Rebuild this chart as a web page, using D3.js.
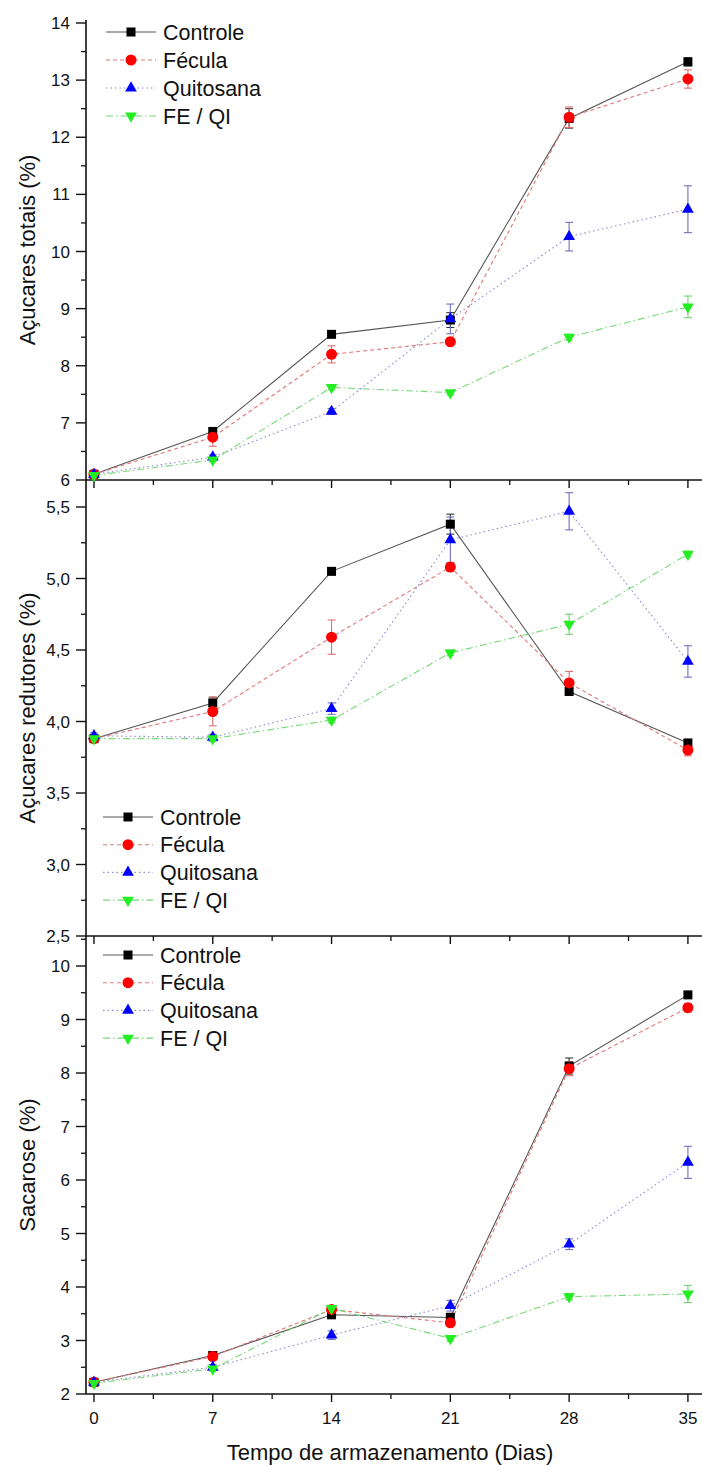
<!DOCTYPE html>
<html><head><meta charset="utf-8">
<script src="https://cdn.jsdelivr.net/npm/d3@7"></script>
<style>
body{margin:0;background:#fff}
svg{display:block}
text{font-family:"Liberation Sans",Arial,sans-serif;fill:#111}
</style>
</head><body>
<svg id="chart" width="702" height="1465"></svg>
<script>
// ---------- DATA ----------
const days = [0, 7, 14, 21, 28, 35];
const seriesNames = ["Controle", "Fécula", "Quitosana", "FE / QI"];

// Açucares totais (%)
const totControle  = [6.10, 6.85, 8.55, 8.80, 12.33, 13.32];
const totFecula    = [6.10, 6.75, 8.20, 8.42, 12.35, 13.02];
const totQuitosana = [6.10, 6.40, 7.20, 8.82, 10.26, 10.74];
const totFEQI      = [6.08, 6.35, 7.62, 7.53, 8.50, 9.03];
const totErrControle  = [0.04, 0.06, 0.04, 0.13, 0.17, 0.07];
const totErrFecula    = [0.03, 0.16, 0.15, 0.04, 0.18, 0.16];
const totErrQuitosana = [0.03, 0.04, 0.05, 0.26, 0.25, 0.41];
const totErrFEQI      = [0.03, 0.03, 0.04, 0.04, 0.05, 0.19];

// Açucares redutores (%)
const redControle  = [3.88, 4.13, 5.05, 5.38, 4.21, 3.85];
const redFecula    = [3.88, 4.07, 4.59, 5.08, 4.27, 3.80];
const redQuitosana = [3.90, 3.89, 4.09, 5.27, 5.47, 4.42];
const redFEQI      = [3.88, 3.88, 4.01, 4.48, 4.68, 5.17];
const redErrControle  = [0.02, 0.04, 0.02, 0.07, 0.02, 0.02];
const redErrFecula    = [0.02, 0.10, 0.12, 0.03, 0.08, 0.04];
const redErrQuitosana = [0.02, 0.02, 0.04, 0.16, 0.13, 0.11];
const redErrFEQI      = [0.02, 0.02, 0.02, 0.02, 0.07, 0.02];

// Sacarose (%)
const sacControle  = [2.22, 2.72, 3.48, 3.43, 8.13, 9.46];
const sacFecula    = [2.22, 2.70, 3.58, 3.33, 8.08, 9.22];
const sacQuitosana = [2.22, 2.50, 3.10, 3.65, 4.80, 6.33];
const sacFEQI      = [2.20, 2.47, 3.60, 3.04, 3.82, 3.87];
const sacErrControle  = [0.04, 0.05, 0.05, 0.08, 0.15, 0.04];
const sacErrFecula    = [0.04, 0.06, 0.06, 0.06, 0.13, 0.08];
const sacErrQuitosana = [0.04, 0.05, 0.08, 0.10, 0.10, 0.30];
const sacErrFEQI      = [0.04, 0.04, 0.05, 0.05, 0.06, 0.16];

// Tick values
const xMajorTicks = [0, 7, 14, 21, 28, 35];
const xMinorTicks = [3.5, 10.5, 17.5, 24.5, 31.5];
const totTicks = [6, 7, 8, 9, 10, 11, 12, 13, 14];
const redTicks = [2.5, 3.0, 3.5, 4.0, 4.5, 5.0, 5.5];
const sacTicks = [2, 3, 4, 5, 6, 7, 8, 9, 10];

// ---------- STYLES ----------
const markerColors = ["#000000", "#ff0000", "#0000ff", "#22ee22"];
const lineColors   = ["#555555", "#e07878", "#8a8ad0", "#78d878"];
const errColors    = ["#333333", "#e07070", "#7070c0", "#70d070"];
const dashes       = [null, "4,3", "1.5,3", "7,3,1.5,3"];

const svg = d3.select("#chart");
const x = d3.scaleLinear().domain([-0.47, 35.83]).range([86, 702]);

const panels = [
  { title: "Açucares totais (%)", domain: [6, 14], range: [480, 23], axisTop: 20,
    ticks: totTicks, minorStep: 0.5, fmt: d => d3.format("d")(d),
    series: [totControle, totFecula, totQuitosana, totFEQI],
    errs: [totErrControle, totErrFecula, totErrQuitosana, totErrFEQI],
    legend: { x0: 106, y0: 32, dy: 28 }, xLabels: false },
  { title: "Açucares redutores (%)", domain: [2.5, 5.5], range: [936, 507], axisTop: 480,
    ticks: redTicks, minorStep: 0.25, fmt: d => d3.format(".1f")(d).replace(".", ","),
    series: [redControle, redFecula, redQuitosana, redFEQI],
    errs: [redErrControle, redErrFecula, redErrQuitosana, redErrFEQI],
    legend: { x0: 103, y0: 817, dy: 27.7 }, xLabels: false },
  { title: "Sacarose (%)", domain: [2, 10], range: [1394, 966], axisTop: 936,
    ticks: sacTicks, minorStep: 0.5, fmt: d => d3.format("d")(d),
    series: [sacControle, sacFecula, sacQuitosana, sacFEQI],
    errs: [sacErrControle, sacErrFecula, sacErrQuitosana, sacErrFEQI],
    legend: { x0: 103, y0: 955, dy: 27.7 }, xLabels: true }
];

function drawMarker(g, i, cx, cy) {
  if (i === 0) {
    g.append("rect").attr("x", cx - 4.5).attr("y", cy - 4.5).attr("width", 9).attr("height", 9)
      .attr("fill", markerColors[0]);
  } else if (i === 1) {
    g.append("circle").attr("cx", cx).attr("cy", cy).attr("r", 5.5).attr("fill", markerColors[1]);
  } else if (i === 2) {
    g.append("path").attr("d", d3.symbol().type(d3.symbolTriangle).size(60)())
      .attr("transform", `translate(${cx},${cy})`).attr("fill", markerColors[2]);
  } else {
    g.append("path").attr("d", d3.symbol().type(d3.symbolTriangle).size(60)())
      .attr("transform", `translate(${cx},${cy}) rotate(180)`).attr("fill", markerColors[3]);
  }
}

panels.forEach(p => {
  const y = d3.scaleLinear().domain(p.domain).range(p.range);
  const g = svg.append("g");
  const bottom = p.range[0];

  // y axis line
  g.append("line").attr("x1", 86).attr("x2", 86).attr("y1", bottom).attr("y2", p.axisTop)
    .attr("stroke", "#111").attr("stroke-width", 1.6);
  // y minor ticks
  const minor = d3.range(p.domain[0], y.invert(p.axisTop) + 1e-9, p.minorStep)
    .filter(v => !p.ticks.some(t => Math.abs(t - v) < 1e-6));
  minor.forEach(v => {
    g.append("line").attr("x1", 81).attr("x2", 86).attr("y1", y(v)).attr("y2", y(v))
      .attr("stroke", "#111").attr("stroke-width", 1.3);
  });
  // y major ticks + labels
  p.ticks.forEach(v => {
    g.append("line").attr("x1", 76).attr("x2", 86).attr("y1", y(v)).attr("y2", y(v))
      .attr("stroke", "#111").attr("stroke-width", 1.4);
    g.append("text").attr("x", 70).attr("y", y(v)).attr("dy", "0.36em")
      .attr("text-anchor", "end").attr("font-size", 17).text(p.fmt(v));
  });

  // x axis line
  g.append("line").attr("x1", 86).attr("x2", 702).attr("y1", bottom).attr("y2", bottom)
    .attr("stroke", "#111").attr("stroke-width", 1.6);
  xMajorTicks.forEach(d => {
    g.append("line").attr("x1", x(d)).attr("x2", x(d)).attr("y1", bottom).attr("y2", bottom + 8)
      .attr("stroke", "#111").attr("stroke-width", 1.4);
    if (p.xLabels) {
      g.append("text").attr("x", x(d)).attr("y", bottom + 24).attr("dy", "0.36em")
        .attr("text-anchor", "middle").attr("font-size", 17).text(d);
    }
  });
  xMinorTicks.forEach(d => {
    g.append("line").attr("x1", x(d)).attr("x2", x(d)).attr("y1", bottom).attr("y2", bottom + 5)
      .attr("stroke", "#111").attr("stroke-width", 1.3);
  });

  // y title
  const cy = (bottom + p.axisTop) / 2;
  g.append("text").attr("transform", `translate(27,${cy}) rotate(-90)`)
    .attr("text-anchor", "middle").attr("dy", "0.36em").attr("font-size", 22).text(p.title);

  // lines
  const line = d3.line().x((d, k) => x(days[k])).y(d => y(d));
  p.series.forEach((s, i) => {
    g.append("path").datum(s).attr("d", line).attr("fill", "none")
      .attr("stroke", lineColors[i]).attr("stroke-width", 1.1)
      .attr("stroke-dasharray", dashes[i]);
  });
  // error bars
  p.series.forEach((s, i) => {
    s.forEach((v, k) => {
      const e = p.errs[i][k];
      const cx = x(days[k]);
      const y1 = y(v - e), y2 = y(v + e);
      g.append("line").attr("x1", cx).attr("x2", cx).attr("y1", y1).attr("y2", y2)
        .attr("stroke", errColors[i]).attr("stroke-width", 1.1);
      [y1, y2].forEach(yy => g.append("line").attr("x1", cx - 4).attr("x2", cx + 4)
        .attr("y1", yy).attr("y2", yy).attr("stroke", errColors[i]).attr("stroke-width", 1.1));
    });
  });
  // markers
  p.series.forEach((s, i) => {
    s.forEach((v, k) => drawMarker(g, i, x(days[k]), y(v)));
  });

  // legend
  seriesNames.forEach((name, i) => {
    const ly = p.legend.y0 + i * p.legend.dy;
    const lx = p.legend.x0;
    g.append("line").attr("x1", lx).attr("x2", lx + 50).attr("y1", ly).attr("y2", ly)
      .attr("stroke", lineColors[i]).attr("stroke-width", 1.1).attr("stroke-dasharray", dashes[i]);
    drawMarker(g, i, lx + 25, ly);
    g.append("text").attr("x", lx + 57).attr("y", ly).attr("dy", "0.36em")
      .attr("font-size", 21.5).text(name);
  });
});

// x title
svg.append("text").attr("x", 390).attr("y", 1452).attr("dy", "0.36em")
  .attr("text-anchor", "middle").attr("font-size", 22).text("Tempo de armazenamento (Dias)");
</script>
</body></html>
